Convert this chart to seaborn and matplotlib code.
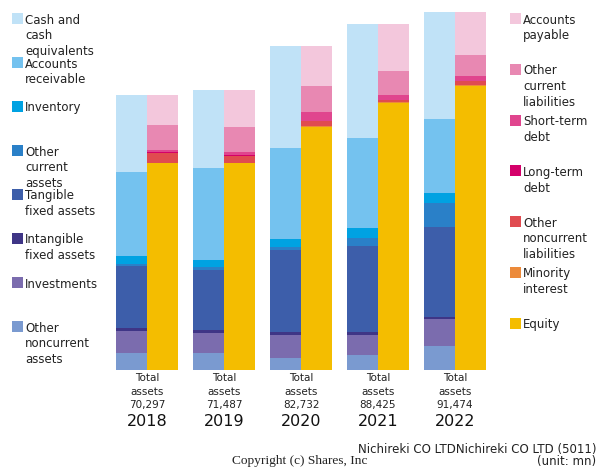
import numpy as np
import pandas as pd
import seaborn as sns
import matplotlib
matplotlib.use("Agg")
import matplotlib.pyplot as plt
from matplotlib.patches import Rectangle
from matplotlib.transforms import blended_transform_factory

sns.set_theme(style="white")
plt.rcParams["font.family"] = ["DejaVu Sans"]

# values in million yen
years = ["2018", "2019", "2020", "2021", "2022"]
total_assets = ["70,297", "71,487", "82,732", "88,425", "91,474"]

# assets, stacked from the bottom up
asset_labels = ["Other\nnoncurrent\nassets", "Investments", "Intangible\nfixed assets",
                "Tangible\nfixed assets", "Other\ncurrent\nassets", "Inventory",
                "Accounts\nreceivable", "Cash and\ncash\nequivalents"]
other_noncurrent_assets = [4430, 4340, 2980, 3750, 6050]
investments = [5620, 5190, 6050, 5280, 6990]
intangible_assets = [600, 600, 600, 600, 600]
tangible_assets = [16020, 15500, 21030, 22140, 23000]
other_current_assets = [340, 600, 850, 1870, 5960]
inventory = [2210, 1870, 2040, 2720, 2640]
receivables = [21380, 23500, 23250, 23000, 18910]
cash = [19670, 19930, 25970, 29040, 27340]

# liabilities + equity, stacked from the bottom up
liab_labels = ["Equity", "Minority\ninterest", "Other\nnoncurrent\nliabilities",
               "Long-term\ndebt", "Short-term\ndebt", "Other\ncurrent\nliabilities",
               "Accounts\npayable"]
equity = [52890, 52890, 62090, 68130, 72480]
minority = [0, 0, 200, 340, 255]
other_noncurrent_liab = [2470, 1870, 1360, 430, 1020]
long_term_debt = [255, 255, 0, 170, 170]
short_term_debt = [680, 680, 2215, 1280, 1280]
other_current_liab = [6300, 6390, 6730, 6130, 5280]
payables = [7670, 9450, 10140, 11920, 10990]

asset_colors = ["#7a9ad0", "#7b6cae", "#3f3586", "#3d5eaa", "#2a80c8", "#00a2e2",
                "#74c2ef", "#c0e2f7"]
liab_colors = ["#f4bd00", "#ec8a3a", "#e04b50", "#d4006a", "#e0458e", "#e888b2",
               "#f3c7dc"]

assets = pd.DataFrame(np.array([other_noncurrent_assets, investments, intangible_assets,
                                tangible_assets, other_current_assets, inventory,
                                receivables, cash]).T, index=years, columns=asset_labels)
liabs = pd.DataFrame(np.array([equity, minority, other_noncurrent_liab, long_term_debt,
                               short_term_debt, other_current_liab, payables]).T,
                     index=years, columns=liab_labels)

W, H = 600, 470
fig = plt.figure(figsize=(W / 100, H / 100), dpi=100)
ax_left, ax_bottom, ax_w, ax_h = 108.5, 100, 385, 358
ax = fig.add_axes([ax_left / W, ax_bottom / H, ax_w / W, ax_h / H])

x = np.arange(len(years))
bw = 0.4


def stack(df, colors, offset):
    bottom = np.zeros(len(df))
    for col, c in zip(df.columns, colors):
        ax.bar(x + offset, df[col].values, bw, bottom=bottom, color=c,
               linewidth=0, align="edge")
        bottom += df[col].values


stack(assets, asset_colors, -bw)
stack(liabs, liab_colors, 0)

ax.set_xlim(-0.5, len(years) - 0.5)
ax.set_ylim(0, 91474)
ax.set_yticks([])
ax.set_xticks(x, [f"Total\nassets\n{t}" for t in total_assets],
              fontsize=7.5, color="#222222", linespacing=1.38)
ax.tick_params(axis="x", length=0, pad=2.5)
for s in ax.spines.values():
    s.set_visible(False)
ax.grid(False)

trans = blended_transform_factory(ax.transData, ax.transAxes)
for i, y in enumerate(years):
    ax.annotate(y, xy=(i, 0), xycoords=trans, xytext=(0, -51),
                textcoords="offset pixels", ha="center", va="center",
                fontsize=11.5, color="#111111")


def px(xp, yp):
    return xp / W, 1 - yp / H


def legend_column(labels, colors, x0, step):
    for i, (lab, c) in enumerate(zip(labels, colors)):
        top = 13 + i * step
        fx, fy = px(x0, top + 11)
        fig.add_artist(Rectangle((fx, fy), 11 / W, 11 / H, color=c,
                                 transform=fig.transFigure, linewidth=0))
        tx, ty = px(x0 + 13, top + 0.5)
        fig.text(tx, ty, lab, fontsize=8.5, va="top", ha="left",
                 color="#222222", linespacing=1.26)


legend_column(asset_labels[::-1], asset_colors[::-1], 12, 44)
legend_column(liab_labels[::-1], liab_colors[::-1], 510, 50.8)

fx, fy = px(596, 449)
fig.text(fx, fy, "Nichireki CO LTDNichireki CO LTD (5011)", ha="right",
         va="center", fontsize=8.5, color="#222222")
fx, fy = px(596, 462)
fig.text(fx, fy, "(unit: mn)", ha="right", va="center", fontsize=8.5,
         color="#222222")
fx, fy = px(300, 461)
fig.text(fx, fy, "Copyright (c) Shares, Inc", ha="center", va="center",
         fontsize=9.6, family="Liberation Serif", color="#222222")

fig.savefig("out.png", dpi=100)
